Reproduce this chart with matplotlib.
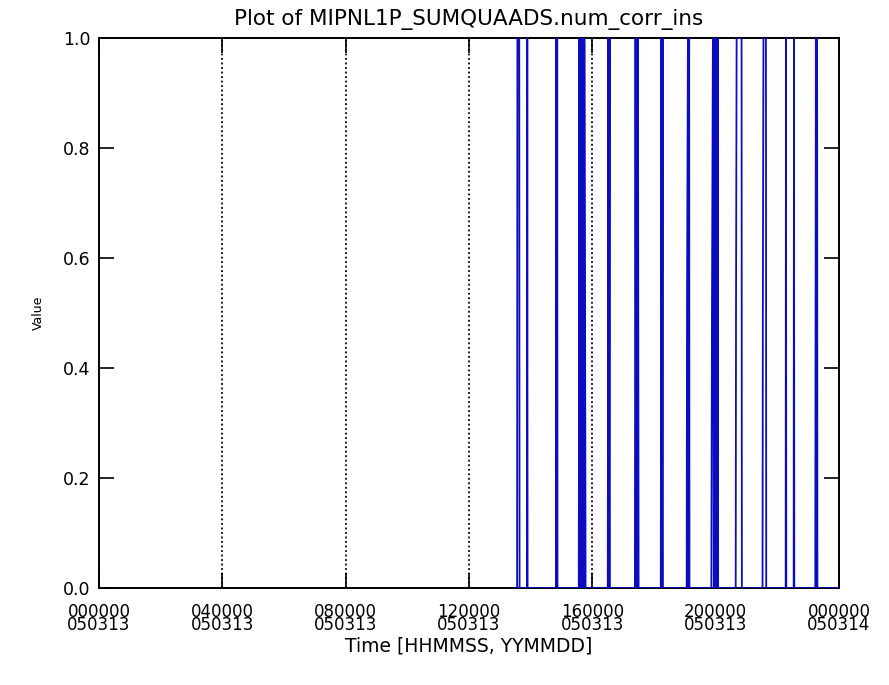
import matplotlib
matplotlib.use("Agg")
import matplotlib.pyplot as plt

# time of day in hours (050313), and the value of num_corr_ins
t_hours = [13.56, 13.57, 13.63, 13.64,
           13.88, 13.89, 13.90,
           14.82, 14.83, 14.85, 14.86, 14.87,
           15.56, 15.58, 15.60, 15.63, 15.66, 15.69, 15.72, 15.75, 15.78,
           16.50, 16.52, 16.54, 16.56, 16.57,
           17.38, 17.40, 17.42, 17.44, 17.46, 17.48, 17.50,
           18.22, 18.24, 18.26, 18.28, 18.29,
           19.06, 19.07, 19.10, 19.12, 19.14, 19.15,
           19.86, 19.88, 19.91, 19.94, 19.97, 20.00, 20.03, 20.05, 20.07, 20.08,
           20.65, 20.66, 20.68, 20.84, 20.85,
           21.52, 21.53, 21.55, 21.63, 21.64,
           22.27, 22.28, 22.29,
           22.53, 22.54, 22.55,
           23.23, 23.25, 23.27, 23.29, 23.30,
           23.99]
values = [0, 1, 1, 0,
          0, 1, 0,
          0, 1, 0, 1, 0,
          0, 1, 0, 1, 0, 1, 0, 1, 0,
          0, 1, 0, 1, 0,
          0, 1, 0, 1, 0, 1, 0,
          0, 1, 0, 1, 0,
          0, 0.5, 1, 0, 1, 0,
          0, 0.5, 1, 0, 1, 0, 1, 0, 1, 0,
          0, 0.5, 1, 1, 0,
          0, 0.5, 1, 1, 0,
          0, 1, 0,
          0, 1, 0,
          0, 1, 0, 1, 0,
          0]

tick_hours = [0, 4, 8, 12, 16, 20, 24]
tick_labels = ["000000\n050313", "040000\n050313", "080000\n050313",
               "120000\n050313", "160000\n050313", "200000\n050313",
               "000000\n050314"]
y_ticks = [0, 0.2, 0.4, 0.6, 0.8, 1.0]

fig = plt.figure(figsize=(8.89, 6.85), dpi=100)
ax = fig.add_axes([99 / 889, 1 - 588 / 685, 740 / 889, 550 / 685])

ax.plot(t_hours, values, color="#0c0cc0", linewidth=1.3, zorder=3)

# dotted lines at the inner time ticks
for h in tick_hours[1:-1]:
    ax.axvline(h, color="black", linestyle=(0, (1, 1.5)), linewidth=1.3, zorder=2)

ax.set_xlim(0, 24)
ax.set_ylim(0, 1)
ax.set_xticks(tick_hours)
ax.set_xticklabels(tick_labels, fontsize=12, linespacing=0.6)
ax.set_yticks(y_ticks)
ax.set_yticklabels(["%.1f" % v for v in y_ticks], fontsize=12.5)
ax.tick_params(direction="in", length=11, width=1.2, right=True, top=True)
ax.tick_params(axis="x", pad=11)
ax.tick_params(axis="y", pad=6)
for s in ax.spines.values():
    s.set_linewidth(1.4)

fig.text((99 + 839) / 2 / 889, 1 - 20 / 685, "Plot of MIPNL1P_SUMQUAADS.num_corr_ins",
         fontsize=15.5, ha="center", va="center")
ax.set_xlabel("Time [HHMMSS, YYMMDD]", fontsize=13.5, va="center")
ax.xaxis.set_label_coords(0.5, (588 - 646) / 550)
ax.set_ylabel("Value", fontsize=9, va="center")
ax.yaxis.set_label_coords((38 - 99) / 740, 0.5)

fig.savefig("out.png", dpi=100)
